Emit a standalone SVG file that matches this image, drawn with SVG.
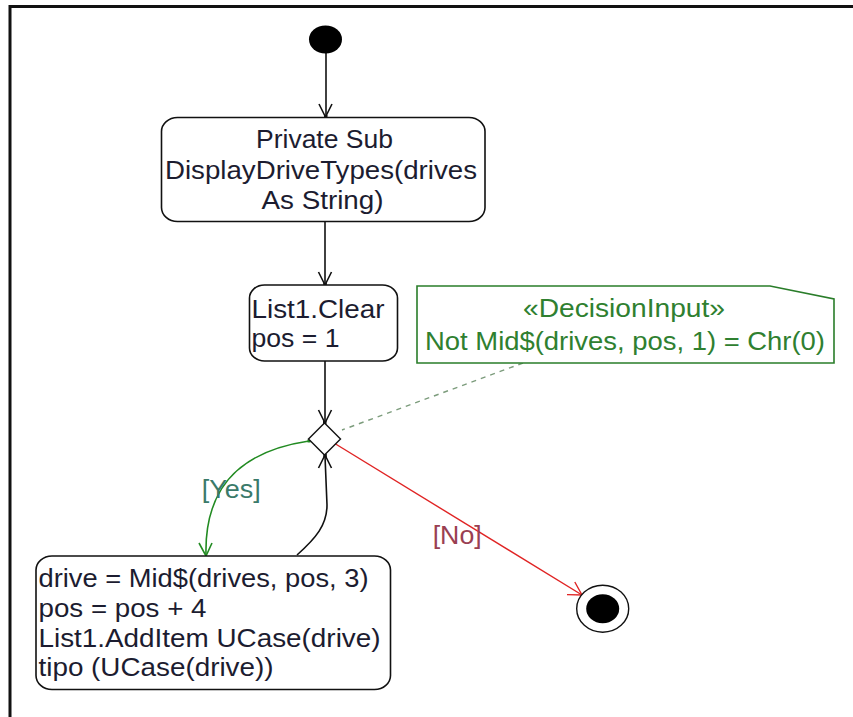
<svg xmlns="http://www.w3.org/2000/svg" width="853" height="717" viewBox="0 0 853 717">
<style>
  text { font-family: "Liberation Sans", Arial, sans-serif; font-size: 25px; }
  .t { fill: #1c1c30; }
  .ctr { text-anchor: middle; }
  .box { fill: #ffffff; stroke: #111111; stroke-width: 1.6; }
  .note { fill: #ffffff; stroke: #2a7d2a; stroke-width: 1.6; }
  .ntext { fill: #2f8030; }
  .ln { fill: none; stroke: #111111; stroke-width: 1.6; }
  .gr { fill: none; stroke: #228b22; stroke-width: 1.6; }
  .rd { fill: none; stroke: #e02424; stroke-width: 1.4; }
  .dash { fill: none; stroke: #7c9c7c; stroke-width: 1.4; stroke-dasharray: 5 5; }
</style>
<rect x="0" y="0" width="853" height="717" fill="#ffffff"/>
<path d="M10,717 V6.5 H853" fill="none" stroke="#111111" stroke-width="3"/>

<g id="connectors">
  <!-- start -> box1 -->
  <path class="ln" d="M326,53 V117"/>
  <path class="ln" d="M319,104 L325.5,117 L332,104"/>
  <rect x="324" y="115" width="3.5" height="3.5" fill="#111111"/>
  <!-- box1 -> box2 -->
  <path class="ln" d="M325,222 V285"/>
  <path class="ln" d="M318.5,272 L325,285 L331.5,272"/>
  <rect x="323.3" y="283" width="3.5" height="3.5" fill="#111111"/>
  <!-- box2 -> decision -->
  <path class="ln" d="M325,361 V423"/>
  <path class="ln" d="M318.5,410 L325,423 L331.5,410"/>
  <rect x="323" y="421" width="3.5" height="3.5" fill="#111111"/>
  <!-- yes branch -->
  <path class="gr" d="M309,441 C255,449 204,475 206,555"/>
  <path class="gr" d="M199,543 L206,556 L212,543"/>
  <rect x="307.5" y="439.5" width="3" height="3" fill="#228b22"/>
  <!-- loop back -->
  <path class="ln" d="M297,555 C316,538 327,525 327,505 L325,456"/>
  <path class="ln" d="M318.5,468 L325,455 L331.5,468"/>
  <rect x="323.3" y="454" width="3.5" height="3.5" fill="#111111"/>
  <!-- no branch -->
  <path class="rd" d="M334,443 L582,595"/>
  <path class="rd" d="M567,594.6 L582,595 L574.8,582"/>
  <rect x="332.5" y="441.5" width="3" height="3" fill="#d02020"/>
  <!-- note anchor -->
  <path class="dash" d="M523,363 L342,430"/>
  <text x="201.7" y="498" textLength="59" lengthAdjust="spacingAndGlyphs" fill="#3a7a6a">[Yes]</text>
  <text x="432.7" y="544" textLength="49" lengthAdjust="spacingAndGlyphs" fill="#9a4052">[No]</text>
</g>

<g id="start">
  <ellipse cx="325.5" cy="39.5" rx="16.5" ry="14" fill="#000000"/>
</g>

<g id="box1">
  <rect class="box" x="161.5" y="117.5" width="323.5" height="104" rx="16" ry="14"/>
  <text class="t ctr" x="324.5" y="148" textLength="137" lengthAdjust="spacingAndGlyphs">Private Sub</text>
  <text class="t ctr" x="321" y="178.5" textLength="312" lengthAdjust="spacingAndGlyphs">DisplayDriveTypes(drives</text>
  <text class="t ctr" x="322.5" y="209" textLength="122" lengthAdjust="spacingAndGlyphs">As String)</text>
</g>

<g id="box2">
  <rect class="box" x="249.5" y="285" width="148" height="76" rx="15" ry="13"/>
  <text class="t" x="251.5" y="318" textLength="133" lengthAdjust="spacingAndGlyphs">List1.Clear</text>
  <text class="t" x="251.5" y="347" textLength="88" lengthAdjust="spacingAndGlyphs">pos = 1</text>
</g>

<g id="decision">
  <path d="M324.5,423 L340.5,439 L324.5,455 L308.5,439 Z" fill="#ffffff" stroke="#111111" stroke-width="1.4"/>
</g>

<g id="note">
  <path class="note" d="M417,286 H770 L834,299 V363 H417 Z"/>
  <text class="ntext ctr" x="624" y="317" textLength="202" lengthAdjust="spacingAndGlyphs">«DecisionInput»</text>
  <text class="ntext ctr" x="625" y="350" textLength="400" lengthAdjust="spacingAndGlyphs">Not Mid$(drives, pos, 1) = Chr(0)</text>
</g>

<g id="box3">
  <rect class="box" x="36" y="556" width="354.5" height="133.5" rx="16" ry="14"/>
  <text class="t" x="38.5" y="587" textLength="330" lengthAdjust="spacingAndGlyphs">drive = Mid$(drives, pos, 3)</text>
  <text class="t" x="38.5" y="617" textLength="168" lengthAdjust="spacingAndGlyphs">pos = pos + 4</text>
  <text class="t" x="38.5" y="647" textLength="342" lengthAdjust="spacingAndGlyphs">List1.AddItem UCase(drive)</text>
  <text class="t" x="38.5" y="676" textLength="235" lengthAdjust="spacingAndGlyphs">tipo (UCase(drive))</text>
</g>

<g id="end">
  <ellipse cx="602.7" cy="608.7" rx="26" ry="23.5" fill="#ffffff" stroke="#111111" stroke-width="1.4"/>
  <ellipse cx="602.7" cy="608.7" rx="16.5" ry="14.5" fill="#000000"/>
</g>
</svg>
